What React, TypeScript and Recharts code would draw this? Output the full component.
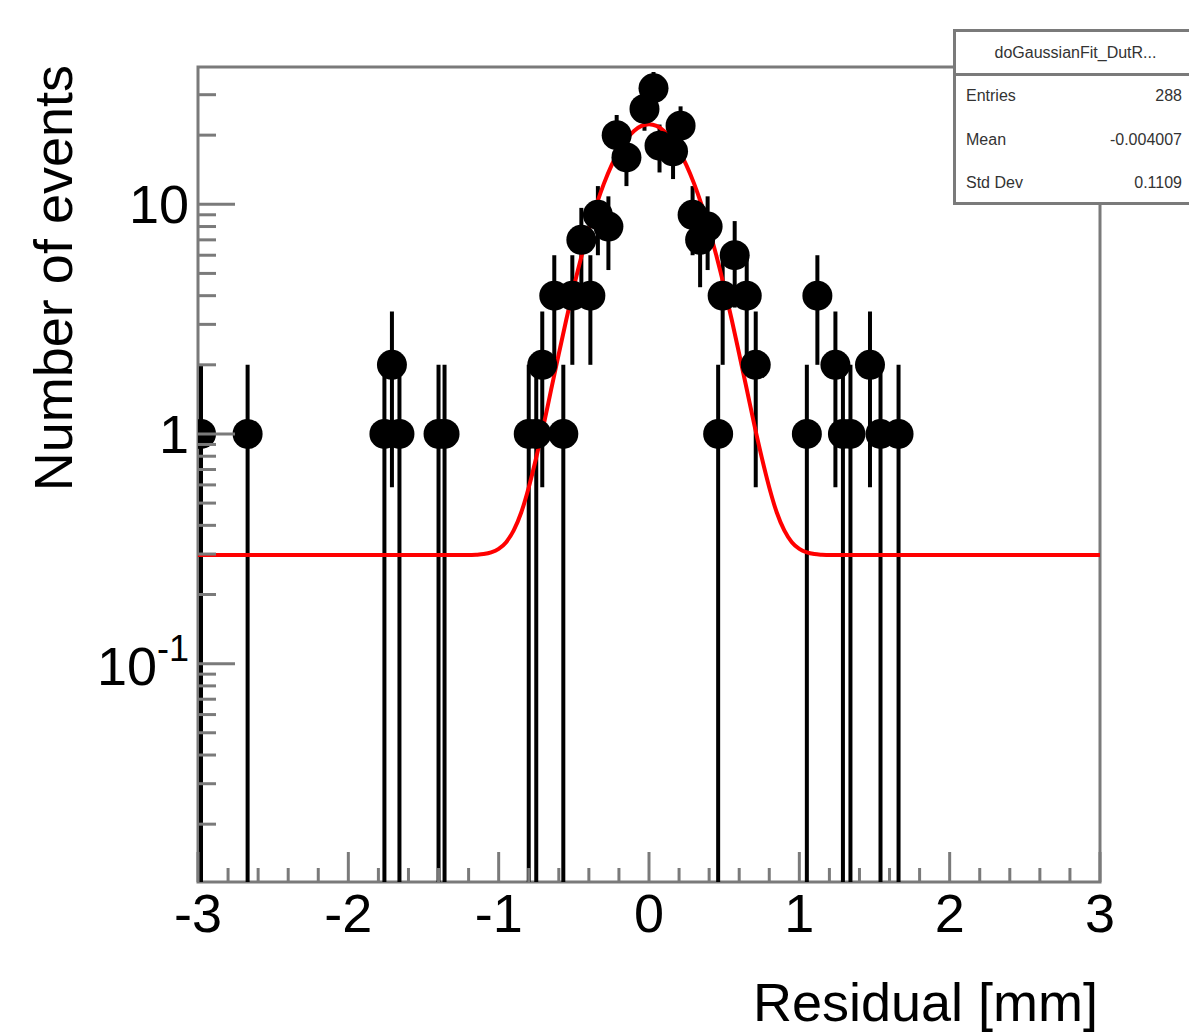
import { ComposedChart, Scatter, Line, XAxis, YAxis, ErrorBar, ReferenceArea } from "recharts";

// histogram bins (bin centre, counts)
const BIN_X = [
  -2.98, -2.67, -1.76, -1.71, -1.66, -1.4, -1.36, -0.8, -0.75, -0.71, -0.63, -0.57, -0.51, -0.45, -0.39,
  -0.34, -0.27, -0.215, -0.15, -0.03, 0.03, 0.07, 0.16, 0.21, 0.29, 0.34, 0.39, 0.46, 0.49, 0.57, 0.65,
  0.71, 1.05, 1.12, 1.24, 1.29, 1.34, 1.47, 1.54, 1.66,
];
const COUNTS = [
  1, 1, 1, 2, 1, 1, 1, 1, 1, 2, 4, 1, 4, 7, 4,
  9, 8, 20, 16, 26, 32, 18, 17, 22, 9, 7, 8, 1, 4, 6, 4,
  2, 1, 4, 2, 1, 1, 2, 1, 1,
];

// red fit curve
const FIT_X = [
  -3, -1.2, -1.15, -1.1, -1.05, -1.0, -0.95, -0.9, -0.85, -0.8, -0.75, -0.7, -0.65, -0.6, -0.55, -0.5, -0.45,
  -0.4, -0.35, -0.3, -0.25, -0.2, -0.15, -0.1, -0.05, 0, 0.05, 0.1, 0.15, 0.2, 0.25, 0.3, 0.35, 0.4, 0.45,
  0.5, 0.55, 0.6, 0.65, 0.7, 0.75, 0.8, 0.85, 0.9, 0.95, 1.0, 1.05, 1.1, 1.15, 1.2, 3,
];
const FIT_Y = [
  0.297, 0.297, 0.298, 0.3, 0.305, 0.316, 0.338, 0.38, 0.455, 0.585, 0.79, 1.1, 1.57, 2.23, 3.15, 4.37, 5.91,
  7.77, 9.93, 12.3, 14.74, 17.1, 19.2, 20.87, 21.93, 22.3, 21.93, 20.87, 19.2, 17.1, 14.74, 12.3, 9.93, 7.77,
  5.91, 4.37, 3.15, 2.23, 1.57, 1.1, 0.79, 0.585, 0.455, 0.38, 0.338, 0.316, 0.305, 0.3, 0.298, 0.297, 0.297,
];

const X_TICKS = [
  -3, -2.8, -2.6, -2.4, -2.2, -2, -1.8, -1.6, -1.4, -1.2, -1, -0.8, -0.6, -0.4, -0.2, 0,
  0.2, 0.4, 0.6, 0.8, 1, 1.2, 1.4, 1.6, 1.8, 2, 2.2, 2.4, 2.6, 2.8, 3,
];
const X_MAJOR = [-3, -2, -1, 0, 1, 2, 3];
const Y_TICKS = [
  0.02, 0.03, 0.04, 0.05, 0.06, 0.07, 0.08, 0.09, 0.1, 0.2, 0.3, 0.4, 0.5, 0.6, 0.7, 0.8, 0.9,
  1, 2, 3, 4, 5, 6, 7, 8, 9, 10, 20, 30,
];
const Y_MAJOR = [0.1, 1, 10];
const Y_MIN = 0.0112;
const Y_MAX = 39.6;

const STATS = [
  ["Entries", "288"],
  ["Mean", "-0.004007"],
  ["Std Dev", "0.1109"],
];

const FONT = "'Liberation Sans', Arial, Helvetica, sans-serif";
const AXIS = "#7a7a7a";

const points = BIN_X.map((x, i) => {
  const n = COUNTS[i];
  const s = Math.sqrt(n);
  return { x, y: n, err: [Math.min(s, n - Y_MIN), s] };
});
const fit = FIT_X.map((x, i) => ({ x, y: FIT_Y[i] }));

function XTick(props: any) {
  const { x, y, payload } = props;
  const v = payload.value;
  const major = X_MAJOR.some((m) => Math.abs(m - v) < 1e-6);
  return (
    <g>
      <line x1={x} x2={x} y1={y} y2={y - (major ? 30 : 14)} stroke={AXIS} strokeWidth={3} />
      {major && (
        <text x={x} y={y + 50} textAnchor="middle" fontSize={54} fontFamily={FONT} fill="#000">
          {Math.round(v)}
        </text>
      )}
    </g>
  );
}

function YTick(props: any) {
  const { x, y, payload } = props;
  const v = payload.value;
  const major = Y_MAJOR.includes(v);
  let label = null;
  if (v === 10 || v === 1) {
    label = (
      <text x={x - 9} y={y + 19} textAnchor="end" fontSize={54} fontFamily={FONT} fill="#000">
        {String(v)}
      </text>
    );
  } else if (v === 0.1) {
    label = (
      <text x={x - 9} y={y + 21} textAnchor="end" fontSize={54} fontFamily={FONT} fill="#000">
        10
        <tspan dy={-24} fontSize={36}>-1</tspan>
      </text>
    );
  }
  return (
    <g>
      <line x1={x} x2={x + (major ? 37 : 18)} y1={y} y2={y} stroke={AXIS} strokeWidth={3} />
      {label}
    </g>
  );
}

export default function App() {
  return (
    <div
      style={{
        position: "absolute",
        left: 0,
        top: 0,
        width: 1189,
        height: 1032,
        overflow: "hidden",
        background: "#fff",
        fontFamily: FONT,
      }}
    >
      <ComposedChart width={1189} height={1032} margin={{ top: 67, right: 89, bottom: 0, left: 0 }}>
        <XAxis
          type="number"
          dataKey="x"
          domain={[-3, 3]}
          allowDataOverflow
          ticks={X_TICKS}
          interval={0}
          tick={XTick}
          tickLine={false}
          tickSize={0}
          tickMargin={0}
          axisLine={false}
          height={150}
          label={{
            content: () => (
              <text x={1098} y={1021} textAnchor="end" fontSize={54} fontFamily={FONT} fill="#000">
                Residual [mm]
              </text>
            ),
          }}
        />
        <YAxis
          type="number"
          scale="log"
          domain={[Y_MIN, Y_MAX]}
          allowDataOverflow
          ticks={Y_TICKS}
          interval={0}
          tick={YTick}
          tickLine={false}
          tickSize={0}
          tickMargin={0}
          axisLine={false}
          width={198}
          label={{
            content: () => (
              <text
                x={72}
                y={65}
                textAnchor="end"
                transform="rotate(-90, 72, 65)"
                fontSize={54}
                fontFamily={FONT}
                fill="#000"
              >
                Number of events
              </text>
            ),
          }}
        />
        <ReferenceArea
          x1={-3}
          x2={3}
          y1={Y_MIN}
          y2={Y_MAX}
          fill="none"
          fillOpacity={0}
          stroke={AXIS}
          strokeWidth={3}
          strokeOpacity={1}
          ifOverflow="visible"
        />
        <Scatter
          data={points}
          dataKey="y"
          isAnimationActive={false}
          shape={(p: any) => <circle cx={p.cx} cy={p.cy} r={15} fill="#000" />}
        >
          <ErrorBar dataKey="err" direction="y" width={0} stroke="#000" strokeWidth={4} />
        </Scatter>
        <Line
          data={fit}
          dataKey="y"
          type="monotone"
          stroke="#ff0000"
          strokeWidth={4}
          dot={false}
          activeDot={false}
          isAnimationActive={false}
        />
      </ComposedChart>

      <div
        style={{
          position: "absolute",
          left: 953,
          top: 29,
          width: 245,
          height: 176,
          boxSizing: "border-box",
          border: `3px solid ${AXIS}`,
          background: "#fff",
          color: "#333",
          fontSize: 16,
        }}
      >
        <div
          style={{
            height: 41,
            lineHeight: "41px",
            textAlign: "center",
            borderBottom: `3px solid ${AXIS}`,
          }}
        >
          doGaussianFit_DutR...
        </div>
        {STATS.map(([k, v], i) => (
          <div
            key={k}
            style={{
              position: "absolute",
              left: 10,
              right: 13,
              top: 64 + i * 43.5 - 11,
              height: 22,
              lineHeight: "22px",
              display: "flex",
              justifyContent: "space-between",
            }}
          >
            <span>{k}</span>
            <span>{v}</span>
          </div>
        ))}
      </div>
    </div>
  );
}
